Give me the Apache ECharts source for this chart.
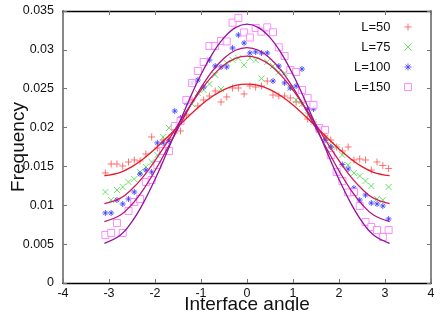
<!DOCTYPE html>
<html><head><meta charset="utf-8">
<script src="https://cdn.jsdelivr.net/npm/echarts@6/dist/echarts.min.js"></script>
<style>html,body{margin:0;padding:0;background:#fff}#c{width:444px;height:311px}</style>
</head><body><div id="c"></div>
<script>
const angles = [-3.079,-2.953,-2.827,-2.702,-2.576,-2.450,-2.325,-2.199,-2.073,-1.948,-1.822,-1.696,-1.571,-1.445,-1.319,-1.194,-1.068,-0.942,-0.817,-0.691,-0.565,-0.440,-0.314,-0.188,-0.063,0.063,0.188,0.314,0.440,0.565,0.691,0.817,0.942,1.068,1.194,1.319,1.445,1.571,1.696,1.822,1.948,2.073,2.199,2.325,2.450,2.576,2.702,2.827,2.953,3.079];
const freqL50 = [0.01416,0.01531,0.01531,0.01506,0.01557,0.01583,0.0157,0.0166,0.01879,0.01737,0.0184,0.01866,0.0193,0.01956,0.02162,0.02355,0.02278,0.02355,0.02406,0.02471,0.02329,0.02394,0.02509,0.02509,0.02432,0.02535,0.02522,0.02535,0.02599,0.02419,0.02406,0.02406,0.02381,0.02329,0.02316,0.0211,0.02072,0.01969,0.01892,0.0184,0.0175,0.01699,0.0175,0.01583,0.01596,0.01583,0.01454,0.01557,0.01512,0.01473];
const freqL75 = [0.01171,0.01068,0.01197,0.01235,0.013,0.01338,0.01428,0.01493,0.01557,0.01647,0.01879,0.01995,0.01995,0.02098,0.022,0.02303,0.02445,0.02484,0.02561,0.02677,0.02496,0.02831,0.0287,0.02895,0.02805,0.02895,0.0287,0.02632,0.02844,0.02792,0.02715,0.02702,0.02509,0.02355,0.02303,0.02162,0.02072,0.01969,0.01866,0.01776,0.0175,0.01647,0.01518,0.01416,0.01377,0.01313,0.01248,0.01081,0.01068,0.01235];
const freqL100 = [0.00901,0.00901,0.01068,0.01017,0.01081,0.01171,0.01403,0.01454,0.01428,0.01802,0.01802,0.01827,0.02213,0.02123,0.02316,0.02574,0.02612,0.02522,0.0287,0.02792,0.0278,0.0278,0.03024,0.03191,0.03088,0.0296,0.02973,0.0296,0.0296,0.02599,0.02792,0.02574,0.02509,0.02535,0.02754,0.02239,0.02239,0.01995,0.0184,0.0175,0.01416,0.01525,0.01467,0.01222,0.01068,0.01132,0.01029,0.01017,0.00991,0.00824];
const freqL150 = [0.00618,0.00643,0.00772,0.00643,0.00927,0.01042,0.01081,0.013,0.01325,0.01518,0.01699,0.01699,0.0202,0.02085,0.02355,0.02574,0.02728,0.02844,0.0305,0.0305,0.03114,0.03108,0.0335,0.0341,0.03224,0.03159,0.03281,0.03234,0.0329,0.03226,0.03033,0.02921,0.02741,0.02715,0.02484,0.02381,0.02291,0.01995,0.01969,0.01647,0.01428,0.01313,0.01165,0.01171,0.00991,0.00785,0.00721,0.00682,0.00592,0.00682];

const fitAngles = [-3.1,-2.75,-2.5,-2.25,-2,-1.75,-1.5,-1.25,-1,-0.75,-0.5,-0.25,0,0.25,0.5,0.75,1,1.25,1.5,1.75,2,2.25,2.5,2.75,3.1];
const fitL50 = [0.01381,0.01425,0.01497,0.01599,0.01725,0.01865,0.02012,0.02156,0.02289,0.02402,0.02488,0.02542,0.0256,0.02542,0.02488,0.02402,0.02289,0.02156,0.02012,0.01865,0.01725,0.01599,0.01497,0.01425,0.01381];
const fitL75 = [0.01021,0.01092,0.01209,0.01373,0.01575,0.01801,0.02037,0.0227,0.02483,0.02665,0.02804,0.0289,0.0292,0.0289,0.02804,0.02665,0.02483,0.0227,0.02037,0.01801,0.01575,0.01373,0.01209,0.01092,0.01021];
const fitL100 = [0.00791,0.00875,0.01013,0.01206,0.01444,0.0171,0.01989,0.02263,0.02515,0.0273,0.02893,0.02995,0.0303,0.02995,0.02893,0.0273,0.02515,0.02263,0.01989,0.0171,0.01444,0.01206,0.01013,0.00875,0.00791];
const fitL150 = [0.00511,0.00617,0.0079,0.01034,0.01333,0.01669,0.0202,0.02365,0.02682,0.02952,0.03157,0.03286,0.0333,0.03286,0.03157,0.02952,0.02682,0.02365,0.0202,0.01669,0.01333,0.01034,0.0079,0.00617,0.00511];

const names = ['L=50','L=75','L=100','L=150'];

const pair = (xs, ys) => xs.map((x, i) => [x, ys[i]]);
const symPlus = 'path://M0,5L10,5M5,0L5,10';
const symCross = 'path://M0,0L10,10M10,0L0,10';
const symStar = 'path://M0,5L10,5M5,0L5,10M1.5,1.5L8.5,8.5M8.5,1.5L1.5,8.5';

const ptCol = ['#ff5050','#40e040','#3a3aff','#ff70ff'];
const lineCol = ['#e8192c','#d41a5a','#b5147c','#90139c'];
const syms = [symPlus, symCross, symStar, 'rect'];
const sizes = [7, 6, 6, 7];
const pts = [freqL50, freqL75, freqL100, freqL150];
const fits = [fitL50, fitL75, fitL100, fitL150];

const series = [];
names.forEach((n, k) => {
  const isRect = k === 3;
  series.push({
    name: n, type: 'scatter', data: pair(angles, pts[k]),
    symbol: syms[k], symbolSize: sizes[k],
    itemStyle: isRect ? {color: '#fff', borderColor: ptCol[k], borderWidth: 1}
                      : {color: 'none', borderColor: ptCol[k], borderWidth: 1},
    z: 2
  });
});
names.forEach((n, k) => {
  series.push({
    name: 'fit' + n, type: 'line', data: pair(fitAngles, fits[k]),
    smooth: 0.4, showSymbol: false, symbol: 'none',
    lineStyle: {color: lineCol[k], width: 1.3}, z: 3, silent: true
  });
});

const axisLbl = {color: '#111', fontSize: 12.5, fontFamily: 'Liberation Sans'};
const chart = echarts.init(document.getElementById('c'), null, {renderer: 'canvas'});
chart.setOption({
  animation: false,
  grid: {left: 63, right: 13, top: 11, bottom: 28, containLabel: false, outerBoundsMode: 'none'},
  legend: {
    data: names.map((n, k) => ({name: n, icon: syms[k],
      itemStyle: k === 3 ? {color: '#fff', borderColor: ptCol[k], borderWidth: 1}
                         : {color: 'none', borderColor: ptCol[k], borderWidth: 1}})),
    orient: 'vertical', right: 25, top: 15, align: 'right',
    itemWidth: 7, itemHeight: 7, itemGap: 6,
    textStyle: {fontSize: 13, fontFamily: 'Liberation Sans', color: '#111', lineHeight: 14, padding: [0, 9, 0, 0]}
  },
  xAxis: [{
    type: 'value', min: -4, max: 4, interval: 1,
    name: 'Interface angle', nameLocation: 'middle', nameGap: 12, nameMoveOverlap: false,
    nameTextStyle: {fontSize: 19, fontFamily: 'Liberation Sans', color: '#111', verticalAlign: 'top'},
    axisLine: {onZero: false, lineStyle: {color: '#000', width: 1.3}},
    axisTick: {inside: true, length: 4, lineStyle: {color: '#777'}},
    axisLabel: Object.assign({margin: 4}, axisLbl),
    splitLine: {show: false}
  }, {
    type: 'value', min: -4, max: 4, interval: 1, position: 'top',
    axisLine: {onZero: false, lineStyle: {color: '#000', width: 1.3}},
    axisTick: {inside: true, length: 4, lineStyle: {color: '#777'}},
    axisLabel: {show: false}, splitLine: {show: false}
  }],
  yAxis: [{
    type: 'value', min: 0, max: 0.035, interval: 0.005,
    name: 'Frequency', nameLocation: 'middle', nameGap: 35, nameMoveOverlap: false,
    nameTextStyle: {fontSize: 19, fontFamily: 'Liberation Sans', color: '#111'},
    axisLine: {show: true, onZero: false, lineStyle: {color: '#888', width: 2}},
    axisTick: {show: true, inside: true, length: 4, lineStyle: {color: '#777'}},
    axisLabel: Object.assign({margin: 9}, axisLbl),
    splitLine: {show: false}
  }, {
    type: 'value', min: 0, max: 0.035, interval: 0.005, position: 'right',
    axisLine: {show: true, onZero: false, lineStyle: {color: '#888', width: 2}},
    axisTick: {show: true, inside: true, length: 4, lineStyle: {color: '#777'}},
    axisLabel: {show: false}, splitLine: {show: false}
  }],
  series: series
});
</script></body></html>
